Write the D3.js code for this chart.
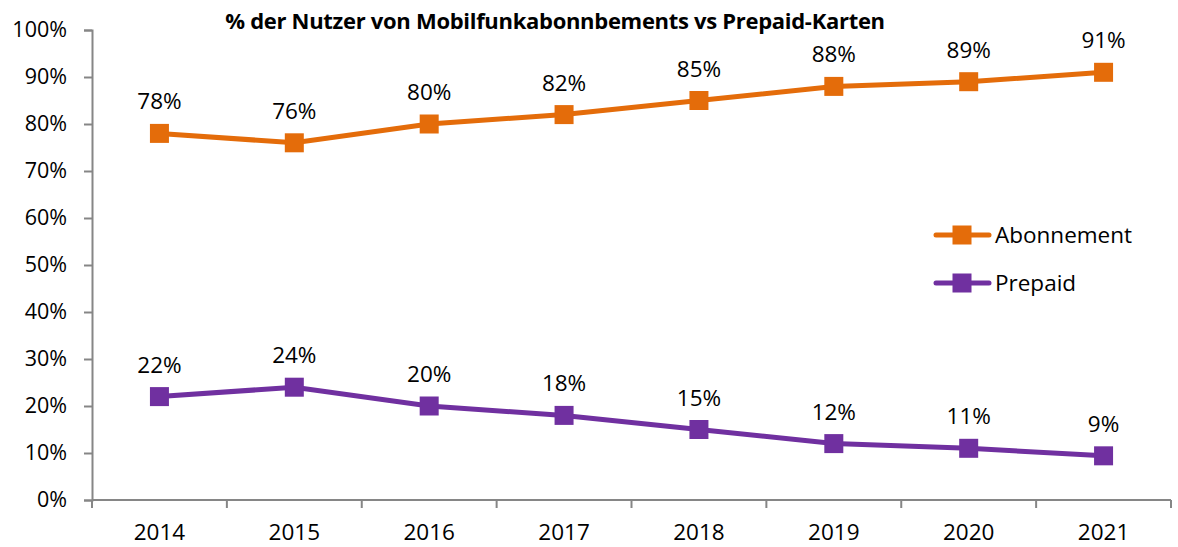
<!DOCTYPE html>
<html>
<head>
<meta charset="utf-8">
<script src="https://cdn.jsdelivr.net/npm/d3@7"></script>
<style>
  body { margin: 0; background: #fff; }
  text { font-family: "Open Sans", "Liberation Sans", sans-serif; fill: #000; }
</style>
</head>
<body>
<div id="chart"></div>
<script>
var years = ['2014', '2015', '2016', '2017', '2018', '2019', '2020', '2021'];
var abonnement = [78, 76, 80, 82, 85, 88, 89, 91];
var prepaid = [22, 24, 20, 18, 15, 12, 11, 9.4];
var yTicks = [0, 10, 20, 30, 40, 50, 60, 70, 80, 90, 100];
var seriesNames = ['Abonnement', 'Prepaid'];
var seriesColors = ['#E46C0A', '#7030A0'];

var width = 1178, height = 547;
var margin = {top: 30, right: 7, bottom: 47, left: 92};

var svg = d3.select('#chart')
    .append('svg')
    .attr('width', width)
    .attr('height', height);

var x = d3.scaleBand()
    .domain(years)
    .range([margin.left, width - margin.right]);

var y = d3.scaleLinear()
    .domain([0, 100])
    .range([height - margin.bottom, margin.top]);

// y axis
var yAxis = svg.append('g')
    .attr('transform', 'translate(' + margin.left + ',0)')
    .call(d3.axisLeft(y).tickValues(yTicks).tickFormat(d => d + '%').tickSize(8).tickPadding(17));
yAxis.select('.domain').attr('stroke', '#868686').attr('stroke-width', 2);
yAxis.selectAll('.tick line').attr('stroke', '#868686').attr('stroke-width', 2);
yAxis.selectAll('text').style('font-size', '21.5px').attr('fill', '#000');

// x axis, ticks on band edges
var xAxis = svg.append('g')
    .attr('transform', 'translate(0,' + (height - margin.bottom) + ')');
xAxis.append('line')
    .attr('x1', margin.left).attr('x2', width - margin.right)
    .attr('stroke', '#868686').attr('stroke-width', 2);
xAxis.selectAll('.edge')
    .data(d3.range(years.length + 1))
    .enter()
    .append('line')
    .attr('x1', d => margin.left + d * x.step())
    .attr('x2', d => margin.left + d * x.step())
    .attr('y1', 0).attr('y2', 8)
    .attr('stroke', '#868686').attr('stroke-width', 2);
xAxis.selectAll('.lbl')
    .data(years)
    .enter()
    .append('text')
    .attr('x', d => x(d) + x.bandwidth() / 2)
    .attr('y', 40)
    .attr('text-anchor', 'middle')
    .style('font-size', '22.5px')
    .text(d => d);

// title
svg.append('text')
    .attr('x', 555)
    .attr('y', 29)
    .attr('text-anchor', 'middle')
    .style('font-size', '22px')
    .style('font-weight', 'bold')
    .style('letter-spacing', '-0.3px')
    .text('% der Nutzer von Mobilfunkabonnbements  vs Prepaid-Karten');

var line = d3.line()
    .x((d, i) => x(years[i]) + x.bandwidth() / 2)
    .y(d => y(d));

var sq = 19;
[abonnement, prepaid].forEach(function (vals, k) {
    var g = svg.append('g');
    g.append('path')
        .datum(vals)
        .attr('d', line)
        .attr('fill', 'none')
        .attr('stroke', seriesColors[k])
        .attr('stroke-width', 5);
    g.selectAll('rect')
        .data(vals)
        .enter()
        .append('rect')
        .attr('x', (d, i) => x(years[i]) + x.bandwidth() / 2 - sq / 2)
        .attr('y', d => y(d) - sq / 2)
        .attr('width', sq)
        .attr('height', sq)
        .attr('fill', seriesColors[k]);
    g.selectAll('text')
        .data(vals)
        .enter()
        .append('text')
        .attr('x', (d, i) => x(years[i]) + x.bandwidth() / 2)
        .attr('y', d => y(d) - 24)
        .attr('text-anchor', 'middle')
        .style('font-size', '22.5px')
        .text(d => Math.round(d) + '%');
});

// legend
var legend = svg.append('g');
seriesNames.forEach(function (name, k) {
    var ly = 235 + k * 48;
    legend.append('line')
        .attr('x1', 936).attr('x2', 989)
        .attr('y1', ly).attr('y2', ly)
        .attr('stroke', seriesColors[k])
        .attr('stroke-width', 5)
        .attr('stroke-linecap', 'round');
    legend.append('rect')
        .attr('x', 962 - sq / 2).attr('y', ly - sq / 2)
        .attr('width', sq).attr('height', sq)
        .attr('fill', seriesColors[k]);
    legend.append('text')
        .attr('x', 995).attr('y', ly + 8)
        .style('font-size', '22.5px')
        .text(name);
});
</script>
</body>
</html>
